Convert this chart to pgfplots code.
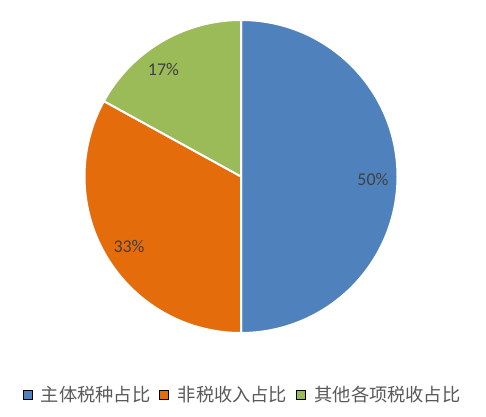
\documentclass[border=0pt]{standalone}
\usepackage{fontspec}
\setmainfont{Carlito}
\newfontfamily\cjk{Noto Sans CJK SC}
\usepackage{pgfplots}
\usepackage{pgfplotstable}
\pgfplotsset{compat=1.18}

\definecolor{pblue}{HTML}{4F81BD}
\definecolor{porange}{HTML}{E46C0A}
\definecolor{pgreen}{HTML}{9BBB59}
\definecolor{labelgray}{HTML}{404040}
\definecolor{legendgray}{HTML}{595959}

% share in percent, slice colour, angle of the data label
\pgfplotstableread{
share color lang
50 pblue -1.5
33 porange -148
17 pgreen 126
}\piedata

\begin{document}
\begin{tikzpicture}
  \begin{axis}[
      width=486bp, height=417bp, scale only axis,
      xmin=0, xmax=486, ymin=0, ymax=417,
      hide axis, clip=false,
      legend columns=3,
      legend style={at={(axis cs:241.5,22)}, anchor=center,
        draw=none, fill=none, inner sep=0pt,
        font=\cjk\fontsize{18.3}{20}\selectfont, text=legendgray,
        nodes={inner sep=0pt},
        /tikz/every odd column/.append style={column sep=9bp},
        /tikz/every even column/.append style={column sep=9bp}},
      legend image code/.code={\fill[#1] (0bp,-4.5bp) rectangle (9bp,4.5bp);},
    ]
    \path (rel axis cs:0,0) (rel axis cs:1,1);
    \def\start{90}
    \pgfplotsforeachungrouped \i in {0,1,2} {
      \pgfplotstablegetelem{\i}{share}\of\piedata \let\v\pgfplotsretval
      \pgfplotstablegetelem{\i}{color}\of\piedata \let\c\pgfplotsretval
      \pgfplotstablegetelem{\i}{lang}\of\piedata \let\la\pgfplotsretval
      \pgfmathsetmacro\stop{\start-3.6*\v}
      \edef\temp{%
        \noexpand\fill[\c, draw=white, line width=2bp, line join=round]
          (axis cs:241,240.5) -- ++(\start:156.5bp)
          arc[start angle=\start, end angle=\stop, radius=156.5bp] -- cycle;
        \noexpand\node[text=labelgray, font=\noexpand\fontsize{18}{20}\noexpand\selectfont]
          at ([shift={(\la:132bp)}]axis cs:241,240.5) {\v\noexpand\%};
      }
      \temp
      \global\let\start\stop
    }
    \addlegendimage{fill=pblue}
    \addlegendentry{主体税种占比}
    \addlegendimage{fill=porange}
    \addlegendentry{非税收入占比}
    \addlegendimage{fill=pgreen}
    \addlegendentry{其他各项税收占比}
  \end{axis}
\end{tikzpicture}
\end{document}
